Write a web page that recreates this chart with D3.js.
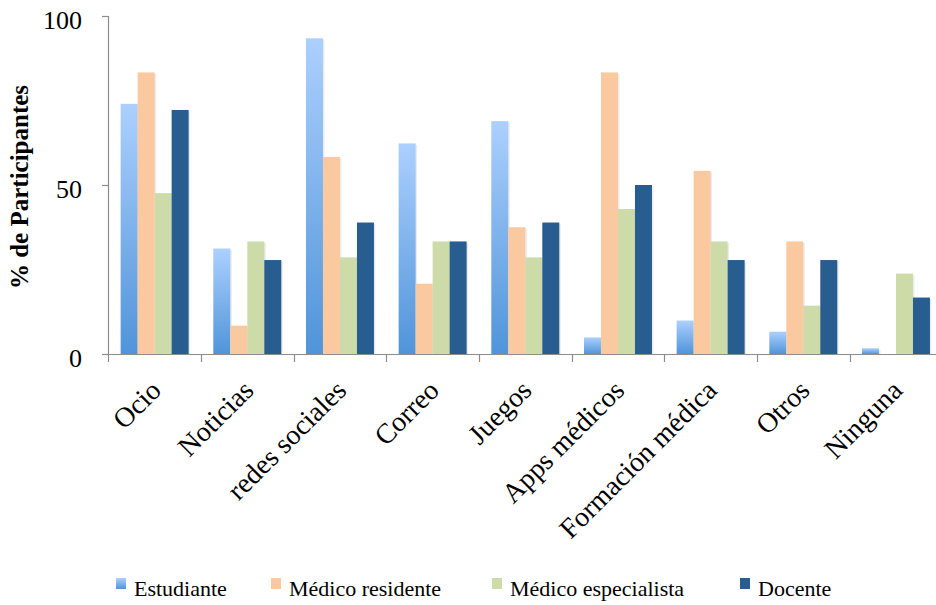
<!DOCTYPE html>
<html>
<head>
<meta charset="utf-8">
<script src="https://cdn.jsdelivr.net/npm/d3@7"></script>
<style>
html,body{margin:0;padding:0;background:#fff;}
svg{display:block;}
</style>
</head>
<body>
<svg id="chart" width="936" height="605" font-family="Liberation Serif"></svg>
<script>
const categories = ["Ocio","Noticias","redes sociales","Correo","Juegos","Apps médicos","Formación médica","Otros","Ninguna"];
const seriesNames = ["Estudiante","Médico residente","Médico especialista","Docente"];
const estudiante   = [74.0, 31.2, 93.4, 62.3, 68.9, 4.9, 9.9, 6.6, 1.7];
const residente    = [83.3, 8.4, 58.3, 20.8, 37.5, 83.3, 54.2, 33.3, 0];
const especialista = [47.6, 33.3, 28.6, 33.3, 28.6, 42.9, 33.3, 14.3, 23.8];
const docente      = [72.2, 27.8, 38.9, 33.3, 38.9, 50.0, 27.8, 27.8, 16.7];
const yTicks = [0, 50, 100];
const yTitle = "% de Participantes";

const FONT = "'Liberation Serif', 'Times New Roman', Times, serif";
const seriesValues = [estudiante, residente, especialista, docente];
const fills = ["url(#gEst)", "#fac9a0", "#cddba9", "#275d8f"];

const svg = d3.select("#chart");
svg.append("rect").attr("width",936).attr("height",605).attr("fill","#fff");

const defs = svg.append("defs");
const g1 = defs.append("linearGradient").attr("id","gEst").attr("x1",0).attr("y1",0).attr("x2",0).attr("y2",1);
g1.append("stop").attr("offset","0%").attr("stop-color","#acd0fe");
g1.append("stop").attr("offset","100%").attr("stop-color","#5094d9");

const axisColor = "#8c8c8c";
const y = d3.scaleLinear().domain([0,100]).range([354,16]);
const x0 = d3.scaleBand().domain(categories).range([108.3, 942.3]).paddingInner(0).paddingOuter(0);
const x1 = d3.scaleBand().domain(seriesNames).range([0, x0.bandwidth()]).paddingInner(0).paddingOuter(0.726);

// bars
const groups = svg.append("g").selectAll("g").data(categories).join("g")
  .attr("transform", d => `translate(${x0(d)},0)`);

groups.each(function(cat, ci){
  const g = d3.select(this);
  seriesNames.forEach((s, si) => {
    const v = seriesValues[si][ci];
    if (v <= 0) return;
    g.append("rect")
      .attr("x", x1(s) + 1.5).attr("y", y(v) + 1.5)
      .attr("width", x1.bandwidth()).attr("height", y(0) - y(v) - 1.5)
      .attr("fill", "#000").attr("opacity", 0.08);
    g.append("rect")
      .attr("x", x1(s)).attr("y", y(v))
      .attr("width", x1.bandwidth()).attr("height", y(0) - y(v))
      .attr("fill", fills[si]);
  });
});

// y axis
const yAxis = svg.append("g").attr("transform","translate(108,0)")
  .call(d3.axisLeft(y).tickValues(yTicks).tickSize(6).tickPadding(0).tickFormat(d3.format("d")));
yAxis.attr("font-family", null).attr("font-size", null);
yAxis.select(".domain").attr("stroke",axisColor).attr("stroke-width",1.2).attr("d","M-6,16.5H0.5V354.5");
yAxis.selectAll(".tick line").attr("stroke",axisColor).attr("stroke-width",1.2);
yAxis.selectAll(".tick text").attr("x",-26).attr("dy",null).attr("y",12.5)
  .style("font-family",FONT).style("font-size","26px").attr("fill","#000");

// x axis
const xAxis = svg.append("g").attr("transform","translate(0,354)");
xAxis.append("line").attr("x1",108).attr("x2",936).attr("y1",0.5).attr("y2",0.5)
  .attr("stroke",axisColor).attr("stroke-width",1.2);
const boundaries = categories.map(c => x0(c)).concat([x0.range()[1]]);
xAxis.selectAll("line.tk").data(boundaries).join("line").attr("class","tk")
  .attr("x1",d=>Math.round(d)+0.5).attr("x2",d=>Math.round(d)+0.5).attr("y1",0).attr("y2",8)
  .attr("stroke",axisColor).attr("stroke-width",1.2);
xAxis.selectAll("text").data(categories).join("text")
  .attr("transform", d => `translate(${x0(d) + x0.bandwidth()/2 + 8},38) rotate(-45)`)
  .attr("text-anchor","end")
  .style("font-family",FONT)
  .style("font-size","28px")
  .text(d => d);

// y title
svg.append("text")
  .attr("transform","translate(28,187) rotate(-90)")
  .attr("text-anchor","middle")
  .style("font-family",FONT)
  .style("font-size","25px").style("font-weight","bold")
  .text(yTitle);

// legend
const legendX = [116, 271, 492, 740];
const leg = svg.append("g");
seriesNames.forEach((s, i) => {
  leg.append("rect").attr("x", legendX[i]).attr("y", 578).attr("width", 10).attr("height", 11)
    .attr("fill", fills[i]);
  leg.append("text").attr("x", legendX[i] + 18).attr("y", 596)
    .style("font-family",FONT)
    .style("font-size","22px").text(s);
});
</script>
</body>
</html>
